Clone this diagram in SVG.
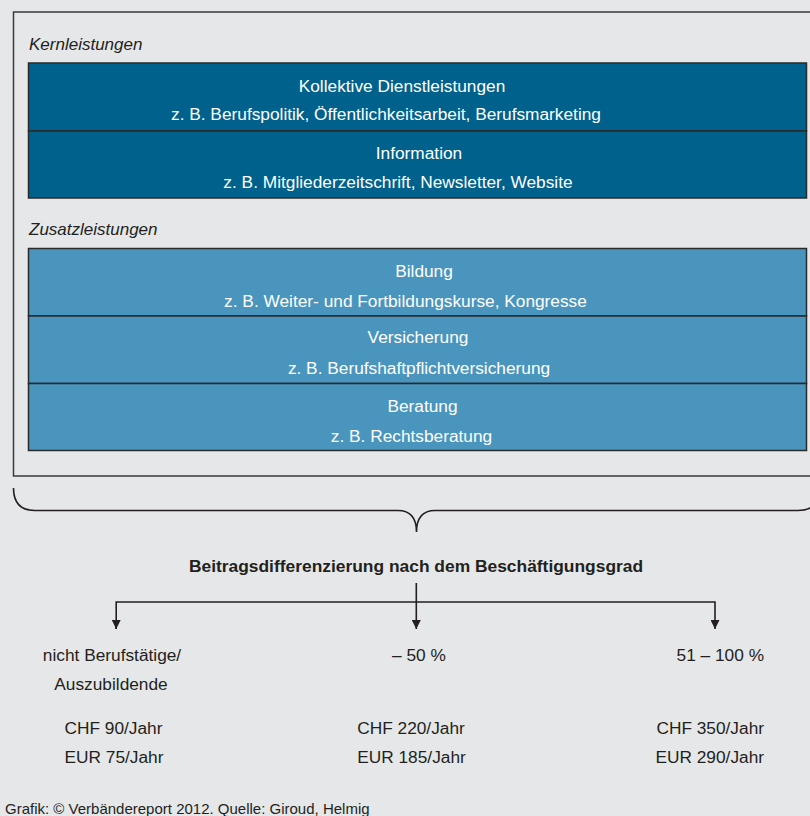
<svg xmlns="http://www.w3.org/2000/svg" width="810" height="816" viewBox="0 0 810 816">
<defs>
<style>
text{font-family:"Liberation Sans",Arial,sans-serif;font-size:17.3px;fill:#231f20}
.w{fill:#ffffff;text-anchor:middle}
.sec{font-style:italic;font-size:17px}
.c{text-anchor:middle}
.r{text-anchor:end}
.core{fill:#00618c;stroke:#2a2a2a;stroke-width:1.5}
.add{fill:#4a95be;stroke:#2a2a2a;stroke-width:1.5}
.ln{fill:none;stroke:#231f20;stroke-width:1.6}
</style>
<marker id="ah" viewBox="0 0 10 10" refX="10" refY="5" markerWidth="9" markerHeight="9" markerUnits="userSpaceOnUse" orient="auto">
<path d="M0,0 L10,5 L0,10 Z" fill="#231f20"/>
</marker>
</defs>
<rect x="0" y="0" width="810" height="816" fill="#e6e7e8"/>
<rect x="13.5" y="12" width="806" height="464" fill="none" stroke="#3a3a3a" stroke-width="1.5"/>
<text x="29" y="50" class="sec">Kernleistungen</text>
<g id="kollektive">
<rect x="28.5" y="63" width="778" height="68" class="core"/>
<text x="402" y="91.5" class="w">Kollektive Dienstleistungen</text>
<text x="386" y="120" class="w">z. B. Berufspolitik, Öffentlichkeitsarbeit, Berufsmarketing</text>
</g>
<g id="information">
<rect x="28.5" y="131" width="778" height="67" class="core"/>
<text x="419" y="158.5" class="w">Information</text>
<text x="398" y="187.5" class="w">z. B. Mitgliederzeitschrift, Newsletter, Website</text>
</g>
<text x="29" y="235" class="sec">Zusatzleistungen</text>
<g id="bildung">
<rect x="28.5" y="248.5" width="778" height="67.5" class="add"/>
<text x="424" y="276.5" class="w">Bildung</text>
<text x="405.5" y="306.5" class="w">z. B. Weiter- und Fortbildungskurse, Kongresse</text>
</g>
<g id="versicherung">
<rect x="28.5" y="316" width="778" height="67.5" class="add"/>
<text x="418" y="343" class="w">Versicherung</text>
<text x="419" y="374" class="w">z. B. Berufshaftpflichtversicherung</text>
</g>
<g id="beratung">
<rect x="28.5" y="383.5" width="778" height="67" class="add"/>
<text x="422.5" y="411.5" class="w">Beratung</text>
<text x="411.5" y="441.5" class="w">z. B. Rechtsberatung</text>
</g>
<g id="connectors">
<path class="ln" d="M13.5,488 Q13.5,510.5 35,510.5 L398,510.5 C410,510.5 416.5,518 416.5,532 C416.5,518 423,510.5 435,510.5 L798,510.5 Q819.5,510.5 819.5,488"/>
<path class="ln" d="M416.3,583 L416.3,629" marker-end="url(#ah)"/>
<path class="ln" d="M116.2,629 L116.2,602 L715,602 L715,629" marker-end="url(#ah)"/>
<path class="ln" d="M116.2,620 L116.2,629" marker-end="url(#ah)"/>
</g>
<text x="416" y="571.5" class="c" style="font-weight:bold;font-size:17.4px">Beitragsdifferenzierung nach dem Beschäftigungsgrad</text>
<g id="col1">
<text x="112" y="661" class="c">nicht Berufstätige/</text>
<text x="111" y="690" class="c">Auszubildende</text>
<text x="113.5" y="734" class="c">CHF 90/Jahr</text>
<text x="114" y="763" class="c">EUR 75/Jahr</text>
</g>
<g id="col2">
<text x="419" y="661" class="c">– 50 %</text>
<text x="411" y="734" class="c">CHF 220/Jahr</text>
<text x="411.5" y="763" class="c">EUR 185/Jahr</text>
</g>
<g id="col3">
<text x="764" y="661" class="r">51 – 100 %</text>
<text x="764" y="734" class="r">CHF 350/Jahr</text>
<text x="764" y="763" class="r">EUR 290/Jahr</text>
</g>
<text x="5" y="814" style="font-size:15px">Grafik: © Verbändereport 2012. Quelle:  Giroud, Helmig</text>
</svg>
